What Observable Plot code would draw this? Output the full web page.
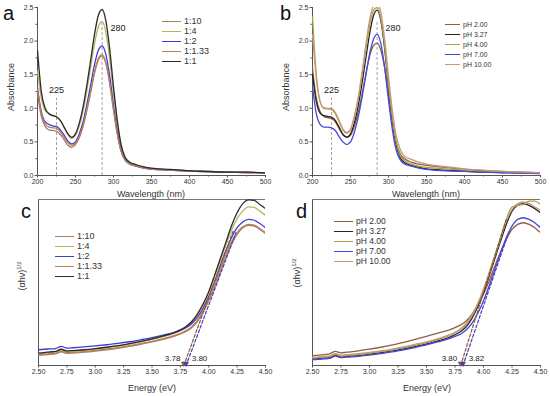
<!DOCTYPE html>
<html><head><meta charset="utf-8">
<script src="https://cdn.jsdelivr.net/npm/d3@7"></script>
<script src="https://cdn.jsdelivr.net/npm/@observablehq/plot@0.6"></script>
<style>
body{margin:0;background:#fff;font-family:"Liberation Sans",Arial,sans-serif;}
#fig{position:relative;width:550px;height:396px;overflow:hidden;background:#fff;}
.pan{position:absolute;}
.pan svg{overflow:visible;}
.lab{position:absolute;font-size:20px;color:#111;line-height:1;}
.leg{position:absolute;font-size:8px;color:#333;}
.leg div{display:flex;align-items:center;height:10px;white-space:nowrap;}
.leg i{display:inline-block;width:18px;height:0;border-top:1.5px solid;margin-right:3px;}
.yl{position:absolute;width:120px;height:12px;font-size:9px;line-height:12px;color:#333;text-align:center;transform:rotate(-90deg);white-space:nowrap;}
.xl{position:absolute;width:120px;font-size:9px;color:#333;text-align:center;line-height:12px;}
</style></head>
<body><div id="fig"></div>
<script>
// ---------- data ----------
const wavelength = [200,205,210,215,220,225,230,235,240,245,250,255,260,265,270,275,280,285,290,295,300,305,310,315,320,330,340,350,375,400,425,450,475,500];

const seriesA = ["1:10","1:4","1:2","1:1.33","1:1"];
const a_1_10  = [1.22,0.88,0.73,0.68,0.67,0.66,0.61,0.53,0.45,0.42,0.46,0.56,0.73,0.97,1.24,1.52,1.72,1.78,1.66,1.37,0.98,0.62,0.37,0.24,0.19,0.15,0.12,0.10,0.085,0.07,0.06,0.05,0.045,0.04];
const a_1_4   = [1.55,1.15,0.97,0.92,0.90,0.88,0.82,0.72,0.61,0.55,0.60,0.74,0.96,1.27,1.61,1.96,2.21,2.29,2.13,1.74,1.22,0.76,0.43,0.27,0.20,0.15,0.12,0.10,0.085,0.07,0.06,0.05,0.045,0.04];
const a_1_2   = [1.30,0.95,0.80,0.76,0.74,0.73,0.68,0.60,0.51,0.47,0.50,0.62,0.80,1.06,1.35,1.65,1.86,1.93,1.80,1.48,1.04,0.65,0.37,0.24,0.18,0.14,0.11,0.095,0.08,0.065,0.055,0.05,0.045,0.04];
const a_1_133 = [1.28,0.92,0.77,0.72,0.71,0.70,0.65,0.57,0.49,0.45,0.48,0.58,0.75,0.99,1.26,1.54,1.74,1.80,1.68,1.38,0.98,0.62,0.36,0.23,0.18,0.14,0.11,0.095,0.08,0.065,0.055,0.05,0.045,0.04];
const a_1_1   = [1.86,1.25,1.00,0.92,0.89,0.87,0.82,0.72,0.62,0.57,0.62,0.78,1.02,1.35,1.72,2.10,2.38,2.47,2.30,1.88,1.32,0.82,0.46,0.28,0.21,0.16,0.13,0.11,0.09,0.07,0.06,0.05,0.05,0.04];

const seriesB = ["pH 2.00","pH 3.27","pH 4.00","pH 7.00","pH 10.00"];
const b_ph2  = [1.60,1.15,0.95,0.88,0.86,0.85,0.80,0.70,0.61,0.57,0.60,0.73,0.93,1.20,1.50,1.77,1.93,1.97,1.86,1.60,1.20,0.80,0.50,0.33,0.26,0.20,0.17,0.15,0.12,0.09,0.07,0.06,0.05,0.04];
const b_ph3  = [1.50,1.10,0.93,0.89,0.88,0.87,0.82,0.72,0.61,0.57,0.62,0.78,1.03,1.36,1.73,2.10,2.37,2.46,2.30,1.88,1.32,0.82,0.46,0.28,0.20,0.15,0.12,0.10,0.08,0.065,0.05,0.045,0.04,0.03];
const b_ph4  = [2.36,1.50,1.10,1.00,0.99,0.98,0.92,0.80,0.68,0.63,0.68,0.86,1.12,1.48,1.87,2.23,2.45,2.50,2.33,1.92,1.36,0.86,0.50,0.31,0.23,0.17,0.14,0.12,0.10,0.08,0.06,0.05,0.045,0.04];
const b_ph7  = [1.32,0.92,0.76,0.72,0.72,0.71,0.67,0.58,0.50,0.46,0.50,0.64,0.86,1.15,1.48,1.80,2.02,2.10,1.96,1.60,1.12,0.69,0.38,0.24,0.18,0.14,0.11,0.09,0.07,0.06,0.05,0.04,0.035,0.03];
const b_ph10 = [2.10,1.45,1.10,1.01,1.00,1.00,0.94,0.82,0.69,0.64,0.69,0.88,1.15,1.52,1.93,2.30,2.52,2.57,2.42,2.02,1.48,0.97,0.60,0.40,0.30,0.24,0.20,0.17,0.13,0.10,0.08,0.06,0.05,0.04];

const energy = [2.50,2.55,2.60,2.65,2.70,2.75,2.80,2.90,3.00,3.10,3.20,3.30,3.40,3.50,3.60,3.70,3.75,3.80,3.85,3.90,3.95,4.00,4.05,4.10,4.15,4.20,4.25,4.30,4.35,4.40,4.45,4.50];
const c_1_10  = [0.062,0.064,0.067,0.070,0.082,0.073,0.075,0.080,0.087,0.095,0.104,0.115,0.128,0.142,0.158,0.177,0.190,0.205,0.228,0.265,0.320,0.390,0.470,0.560,0.650,0.730,0.790,0.830,0.845,0.840,0.820,0.795];
const c_1_4   = [0.072,0.075,0.079,0.082,0.095,0.085,0.087,0.092,0.099,0.107,0.117,0.129,0.142,0.157,0.174,0.195,0.210,0.230,0.260,0.305,0.365,0.440,0.535,0.630,0.725,0.815,0.885,0.930,0.955,0.952,0.930,0.905];
const c_1_2   = [0.095,0.098,0.100,0.102,0.115,0.105,0.107,0.112,0.118,0.125,0.133,0.143,0.155,0.168,0.183,0.200,0.212,0.228,0.252,0.290,0.345,0.415,0.500,0.600,0.690,0.770,0.830,0.865,0.880,0.875,0.855,0.830];
const c_1_133 = [0.066,0.068,0.071,0.074,0.086,0.077,0.079,0.084,0.091,0.099,0.108,0.119,0.132,0.146,0.162,0.181,0.194,0.210,0.234,0.272,0.330,0.405,0.490,0.580,0.670,0.745,0.800,0.835,0.850,0.845,0.825,0.800];
const c_1_1   = [0.075,0.078,0.082,0.085,0.098,0.088,0.090,0.095,0.102,0.110,0.120,0.132,0.145,0.160,0.178,0.200,0.215,0.235,0.265,0.310,0.370,0.445,0.540,0.640,0.740,0.840,0.920,0.975,0.998,0.995,0.970,0.945];

const d_ph2  = [0.060,0.062,0.066,0.070,0.085,0.076,0.080,0.088,0.098,0.110,0.124,0.140,0.157,0.175,0.195,0.215,0.228,0.245,0.270,0.310,0.365,0.430,0.510,0.600,0.685,0.760,0.820,0.850,0.860,0.850,0.830,0.800];
const d_ph3  = [0.040,0.042,0.045,0.048,0.062,0.052,0.055,0.060,0.068,0.077,0.088,0.100,0.115,0.130,0.148,0.170,0.185,0.205,0.235,0.285,0.355,0.440,0.540,0.645,0.750,0.850,0.930,0.965,0.975,0.965,0.945,0.920];
const d_ph4  = [0.045,0.047,0.050,0.053,0.067,0.057,0.060,0.066,0.074,0.083,0.094,0.107,0.122,0.138,0.157,0.180,0.196,0.218,0.250,0.300,0.370,0.455,0.555,0.660,0.770,0.880,0.955,0.965,0.970,0.990,0.990,0.970];
const d_ph7  = [0.035,0.037,0.040,0.043,0.056,0.047,0.050,0.055,0.062,0.071,0.082,0.094,0.108,0.125,0.142,0.162,0.175,0.190,0.215,0.255,0.315,0.390,0.480,0.580,0.680,0.770,0.840,0.880,0.890,0.880,0.860,0.830];
const d_ph10 = [0.050,0.052,0.055,0.058,0.072,0.062,0.065,0.071,0.079,0.088,0.099,0.112,0.127,0.143,0.162,0.184,0.200,0.222,0.255,0.305,0.375,0.460,0.560,0.665,0.770,0.870,0.940,0.975,0.985,0.975,0.955,0.935];

// annotation data
const peakMarks = [225, 285];
const peakTops = [1.15, 2.3];
const peakLabels = ["225", "280"];
const peakLabelX = [225, 306];
const peakLabelY = [1.27, 2.19];
const tangentC = {start:[3.78, 3.80], endE:[4.22, 4.24], endV:[0.82, 0.80]};
const tangentD = {start:[3.80, 3.82], endE:[4.20, 4.22], endV:[0.88, 0.80]};
const gapLabelsC = ["3.78", "3.80"];
const gapLabelsD = ["3.80", "3.82"];

// styles
const colorsA = ["#a08070","#b8b45c","#3c3cd8","#bb7e58","#2b2b2b"];
const colorsB = ["#8e5f45","#262626","#aca244","#4646e0","#c4987a"];
const tanColors = ["#8a5a30","#4a3ac0"];

// ---------- helpers ----------
function toRows(xs, series, arrays){
  return series.flatMap((s,i)=> xs.map((x,j)=>({x, y: arrays[i][j], s})));
}
const fig = document.getElementById("fig");
function place(node, left, top){
  const d = document.createElement("div"); d.className="pan";
  d.style.left=left+"px"; d.style.top=top+"px"; d.appendChild(node); fig.appendChild(d);
}
function html(cls, txt, left, top){
  const d=document.createElement("div"); d.className=cls; d.innerHTML=txt;
  d.style.left=left+"px"; d.style.top=top+"px"; fig.appendChild(d); return d;
}
function legend(series, colors, left, top, fs, lw){
  const d=document.createElement("div"); d.className="leg";
  d.style.left=left+"px"; d.style.top=top+"px"; if(fs) d.style.fontSize=fs+"px";
  series.forEach((s,i)=>{ const r=document.createElement("div");
    r.innerHTML=`<i style="border-color:${colors[i]};width:${lw}px"></i>${s}`; d.appendChild(r);});
  fig.appendChild(d);
}
const axisCol="#555";
function base(xd, yd, xt, xminor, xfmt, yTicks){
  const m = [
    Plot.axisX({ticks:xminor, tickSize:1.5, tickFormat:()=>"", label:null, stroke:axisCol}),
    Plot.axisX({ticks:xt, tickSize:2.5, tickPadding:1.5, tickFormat:xfmt, fontSize:7, label:null, stroke:axisCol, fill:"#333"}),
    Plot.ruleY([yd[0]], {stroke:axisCol, strokeWidth:1}),
    Plot.ruleX([xd[0]], {stroke:axisCol, strokeWidth:1}),
  ];
  if(yTicks){
    m.push(Plot.axisY({ticks:yTicks.minor, tickSize:1.5, tickFormat:()=>"", label:null, stroke:axisCol}));
    m.push(Plot.axisY({ticks:yTicks.major, tickSize:2.5, tickPadding:1.5, tickFormat:d3.format(".1f"), fontSize:7, label:null, stroke:axisCol, fill:"#333"}));
  } else {
    m.push(Plot.axisY({ticks:[], label:null}));
  }
  return m;
}
const styleObj = {fontFamily:"'Liberation Sans', Arial, sans-serif", background:"transparent", overflow:"visible"};

// ---------- panels a, b ----------
function spectrum(rows, series, colors, left){
  const xd=[200,500], yd=[0,2.5];
  const peaks = peakMarks.map((w,i)=>({w, top:peakTops[i]}));
  const plabs = peakLabels.map((t,i)=>({t, x:peakLabelX[i], y:peakLabelY[i]}));
  const p = Plot.plot({
    width:275, height:200, marginLeft:37, marginRight:10, marginTop:7, marginBottom:25,
    x:{domain:xd}, y:{domain:yd},
    color:{domain:series, range:colors},
    style:styleObj,
    marks:[
      ...base(xd, yd, [200,250,300,350,400,450,500], [225,275,325,375,425,475], d3.format("d"),
        {major:[0,0.5,1,1.5,2,2.5], minor:[0.25,0.75,1.25,1.75,2.25]}),
      Plot.ruleX(peaks, {x:"w", y1:0, y2:"top", stroke:"#999", strokeWidth:0.9, strokeDasharray:"3,2"}),
      Plot.line(rows, {x:"x", y:"y", z:"s", stroke:"s", curve:"monotone-x", strokeWidth:1.3, clip:true}),
      Plot.text(plabs, {x:"x", y:"y", text:"t", fontSize:9, fill:"#222"})
    ]
  });
  place(p, left, 0);
}
spectrum(toRows(wavelength, seriesA, [a_1_10,a_1_4,a_1_2,a_1_133,a_1_1]), seriesA, colorsA, 0);
spectrum(toRows(wavelength, seriesB, [b_ph2,b_ph3,b_ph4,b_ph7,b_ph10]), seriesB, colorsB, 275);

// ---------- panels c, d ----------
function tauc(rows, series, colors, left, tan, gapLabels, mL){
  const xd=[2.5,4.5], yd=[0,1];
  const tanRows = tan.start.flatMap((s,i)=>[{x:s,y:0,k:i},{x:tan.endE[i],y:tan.endV[i],k:i}]);
  const tips = tan.start.map((s,i)=>({x:s, k:i}));
  const p = Plot.plot({
    width:275, height:200, marginLeft:mL, marginRight:10, marginTop:3, marginBottom:31,
    x:{domain:xd}, y:{domain:yd},
    color:{domain:series, range:colors},
    style:styleObj,
    marks:[
      ...base(xd, yd, [2.5,2.75,3,3.25,3.5,3.75,4,4.25,4.5], [], d3.format(".2f"), null),
      Plot.ruleY([yd[1]], {stroke:"#777", strokeWidth:1}),
      Plot.line(rows, {x:"x", y:"y", z:"s", stroke:"s", curve:"monotone-x", strokeWidth:1.3, clip:true}),
      Plot.line(tanRows, {x:"x", y:"y", z:"k", stroke:d=>tanColors[d.k], strokeWidth:1.2, strokeDasharray:"3,2"}),
      Plot.dot(tips, {x:"x", y:0.012, symbol:"triangle", r:2.2, fill:d=>tanColors[d.k], stroke:"none", rotate:180}),
      Plot.text([gapLabels[0]], {x:tan.start[0]-0.03, y:0.045, text:d=>d, textAnchor:"end", fontSize:8, fill:"#222"}),
      Plot.text([gapLabels[1]], {x:tan.start[1]+0.05, y:0.045, text:d=>d, textAnchor:"start", fontSize:8, fill:"#222"})
    ]
  });
  place(p, left, 196);
}
tauc(toRows(energy, seriesA, [c_1_10,c_1_4,c_1_2,c_1_133,c_1_1]), seriesA, colorsA, 0, tangentC, gapLabelsC, 38);
tauc(toRows(energy, seriesB, [d_ph2,d_ph3,d_ph4,d_ph7,d_ph10]), seriesB, colorsB, 275, tangentD, gapLabelsD, 37);

// ---------- text overlays ----------
html("lab","a",3,3); html("lab","b",280,3); html("lab","c",21,201); html("lab","d",296,201);
html("yl","Absorbance",11-60,87-6); html("yl","Absorbance",286-60,87-6);
html("yl","(&alpha;h&nu;)<sup style='font-size:6px'>1/2</sup>",19-60,276-6);
html("yl","(&alpha;h&nu;)<sup style='font-size:6px'>1/2</sup>",294-60,273-6);
html("xl","Wavelength (nm)",151-60,188); html("xl","Wavelength (nm)",426-60,188);
html("xl","Energy (eV)",152-60,382); html("xl","Energy (eV)",427-60,382);
legend(seriesA, colorsA, 162, 16, 9, 19);
legend(seriesB, colorsB, 445, 19, 7, 15);
legend(seriesA, colorsA, 55, 231, 9, 19);
legend(seriesB, colorsB, 334, 216, 8.5, 19);
</script></body></html>
